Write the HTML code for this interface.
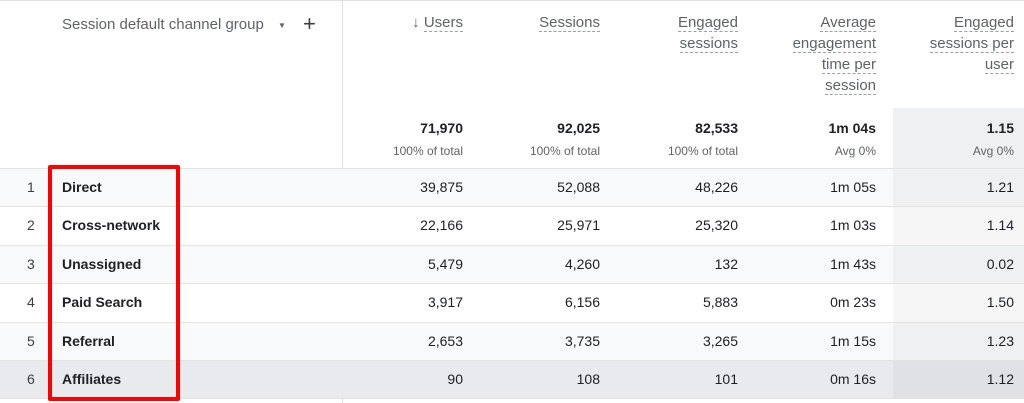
<!DOCTYPE html>
<html><head><meta charset="utf-8"><style>
body{margin:0;width:1024px;height:403px;background:#fff;font-family:"Liberation Sans",Arial,sans-serif;overflow:hidden;position:relative}
.a{position:absolute;white-space:nowrap}
.h{color:#5f6368;font-size:15px;text-align:right;line-height:21px}
.h span{border-bottom:1px dashed #9aa0a6}
.r{text-align:right}
.tot{font-size:14px;font-weight:bold;color:#202124}
.sub{font-size:12px;color:#5f6368}
.cell{font-size:14px;color:#202124}
</style></head><body>
<div class="a" style="left:0;top:0;width:1024px;height:1px;background:#e0e0e0"></div>
<div class="a" style="left:893px;top:108px;width:131px;height:60px;background:#eff0f1"></div>
<div class="a" style="left:342px;top:0;width:1px;height:403px;background:#e0e0e0"></div>
<div class="a" style="left:62px;top:16px;font-size:15px;color:#5f6368">Session default channel group</div>
<div class="a" style="left:278px;top:21px;font-size:8px;color:#5f6368">▼</div>
<div class="a" style="left:303px;top:11px;font-size:22px;color:#3c4043">+</div>
<div id="tbl"></div>
<div class="a" style="left:48px;top:165px;width:124px;height:228px;border:4px solid #f00;border-radius:2px"></div>
<script>
const metrics=["Users","Sessions","Engaged sessions","Average engagement time per session","Engaged sessions per user"];
const headerLines=[["↓ Users"],["Sessions"],["Engaged","sessions"],["Average","engagement","time per","session"],["Engaged","sessions per","user"]];
const totals=["71,970","92,025","82,533","1m 04s","1.15"];
const totalSubs=["100% of total","100% of total","100% of total","Avg 0%","Avg 0%"];
const channels=["Direct","Cross-network","Unassigned","Paid Search","Referral","Affiliates"];
const users=["39,875","22,166","5,479","3,917","2,653","90"];
const sessions=["52,088","25,971","4,260","6,156","3,735","108"];
const engaged=["48,226","25,320","132","5,883","3,265","101"];
const avgTime=["1m 05s","1m 03s","1m 43s","0m 23s","1m 15s","0m 16s"];
const perUser=["1.21","1.14","0.02","1.50","1.23","1.12"];
const colRight=[463,600,738,876,1014];
const rowTop=168,rowH=38.4;
const bgs=["#f8f9fa","#fff","#f8f9fa","#fff","#f8f9fa","#e8eaed"];
const T=document.getElementById('tbl');
function mk(cls,style,txt){const d=document.createElement('div');d.className='a '+cls;d.style.cssText=style;if(txt!==undefined)d.innerHTML=txt;T.appendChild(d);return d;}
headerLines.forEach((ls,i)=>{
 const d=mk('h','right:'+(1024-colRight[i])+'px;top:12px',ls.map(l=>{if(l.startsWith('↓'))return '<span style="border:none">↓ </span><span>Users</span>';return '<span>'+l+'</span>';}).join('<br>'));
 
 
 const t=mk('tot','right:'+(1024-colRight[i])+'px;top:120px',totals[i]);
 
 
 const s=mk('sub','right:'+(1024-colRight[i])+'px;top:144px',totalSubs[i]);
 
 
});
const cols=[users,sessions,engaged,avgTime,perUser];
channels.forEach((c,r)=>{
 const y=rowTop+r*rowH;
 const bg=mk('','left:0;top:'+y+'px;width:1024px;height:'+rowH+'px;background:'+bgs[r]+';border-top:1px solid #e3e3e3;box-sizing:border-box');
 
 
 const sh=mk('','left:893px;top:'+(y+1)+'px;width:131px;height:'+(rowH-1)+'px;background:rgba(0,0,0,0.035)');
 
 
 const ty=y+11;
 const n=mk('cell','left:27px;top:'+ty+'px;color:#3c4043',String(r+1));
 
 
 const l=mk('cell','left:62px;top:'+ty+'px;font-weight:bold',c);
 
 
 cols.forEach((arr,i)=>{
  const v=mk('cell r','right:'+(1024-colRight[i])+'px;top:'+ty+'px',arr[r]);
  
  
 });
});
const bot=mk('','left:0;top:'+(rowTop+6*rowH)+'px;width:1024px;height:1px;background:#e0e0e0');


</script>
</body></html>
